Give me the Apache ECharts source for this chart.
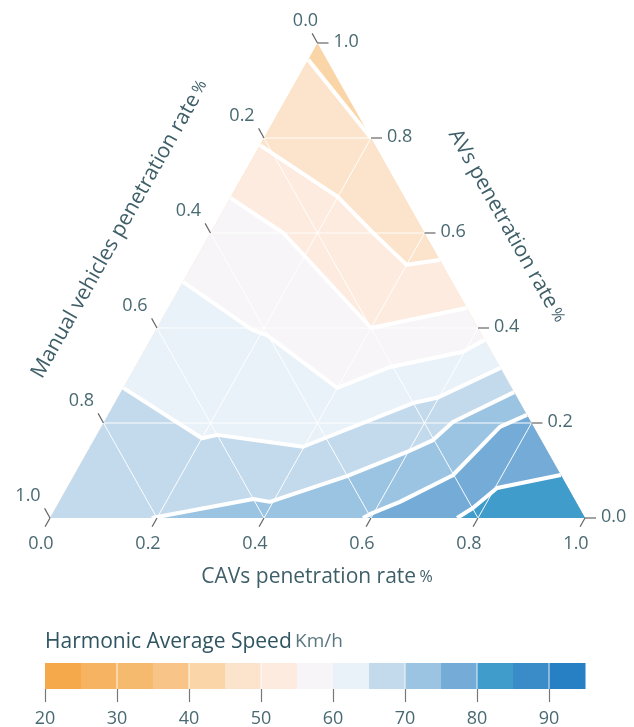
<!DOCTYPE html>
<html><head><meta charset="utf-8">
<script src="https://cdn.jsdelivr.net/npm/echarts@6/dist/echarts.min.js"></script>
<style>html,body{margin:0;padding:0;background:#fff}#c{width:634px;height:727px}</style>
</head><body><div id="c"></div>
<script>
// Ternary points are [CAV share, AV share]; Manual share = 1 - CAV - AV
const axisTicks = [0, 0.2, 0.4, 0.6, 0.8, 1.0];
const gridValues = [0.2, 0.4, 0.6, 0.8];
const speedBins = [20, 25, 30, 35, 40, 45, 50, 55, 60, 65, 70, 75, 80, 85, 90, 95];
const binColors = ['#F5A94A', '#F6B463', '#F6BA6E', '#F8C487', '#FAD5A7', '#FCE4CC', '#FDEBDF',
  '#F7F5F7', '#E9F1F9', '#C3DAED', '#9BC4E2', '#75ACD7', '#409DCB', '#3A8CC9', '#2780C4'];
const colorbarTicks = [20, 30, 40, 50, 60, 70, 80, 90];
const colorbarSeparators = [30, 40, 50, 70, 80, 90];
const baseLevel = 40;
const contourLevels = [45, 50, 55, 60, 65, 70, 75, 80];
const contour45 = [[0, 0.965], [0.2, 0.8]];
const contour50 = [[0, 0.785], [0.2, 0.676], [0.304, 0.6], [0.4, 0.533], [0.457, 0.543]];
const contour55 = [[0, 0.674], [0.136, 0.6], [0.4, 0.4], [0.558, 0.442]];
const contour60 = [[0, 0.497], [0.18, 0.396], [0.213, 0.385], [0.4, 0.274], [0.477, 0.318], [0.597, 0.35], [0.625, 0.375]];
const contour65 = [[0, 0.274], [0.2, 0.168], [0.225, 0.175], [0.398, 0.15], [0.5575, 0.242], [0.597, 0.253], [0.684, 0.316]];
const contour70 = [[0.19, 0], [0.36, 0.04], [0.394, 0.034], [0.511, 0.088], [0.598, 0.139], [0.634, 0.164], [0.652, 0.202], [0.735, 0.265]];
const contour75 = [[0.585, 0], [0.594, 0.008], [0.637, 0.034], [0.708, 0.09], [0.745, 0.192], [0.783, 0.217]];
const contour80 = [[0.761, 0], [0.78, 0.021], [0.804, 0.063], [0.9095, 0.0905]];

const contours = [contour45, contour50, contour55, contour60, contour65, contour70, contour75, contour80];
const T = p => [p[0] + p[1] / 2, p[1]];
const colorFor = lvl => binColors[speedBins.indexOf(lvl)];
function fillPolygon(line) {
  const pts = line.map(T);
  pts.push(T([1, 0]));
  if (line[0][0] === 0 && line[0][1] > 0) pts.push(T([0, 0]));
  return pts;
}
const fillShapes = [{ pts: [T([0, 0]), T([1, 0]), T([0, 1])], color: colorFor(baseLevel) }]
  .concat(contours.map((l, i) => ({ pts: fillPolygon(l), color: colorFor(contourLevels[i]) })));
const gridSegments = [];
gridValues.forEach(v => {
  gridSegments.push([T([0, v]), T([1 - v, v])]);
  gridSegments.push([T([v, 0]), T([v, 1 - v])]);
  gridSegments.push([T([0, 1 - v]), T([1 - v, 0])]);
});

const TXT = '#3f5f68';
const LBL = '#4a6a72';
const FONT = '"Open Sans", "Noto Sans", sans-serif';

const chart = echarts.init(document.getElementById('c'));
const dummy = n => Array.from({ length: n }, () => [0, 0]);
const norm = (a, b) => { const dx = a[0] - b[0], dy = a[1] - b[1]; const l = Math.hypot(dx, dy); return [dx / l, dy / l]; };

chart.setOption({
  animation: false,
  grid: [
    { left: 50, top: 43, width: 535, height: 475, outerBoundsMode: 'none', containLabel: false },
    { left: 45, top: 663, width: 540, height: 26, outerBoundsMode: 'none', containLabel: false }
  ],
  xAxis: [
    { gridIndex: 0, type: 'value', min: 0, max: 1, show: false },
    { gridIndex: 1, type: 'value', min: 20, max: 95, interval: 5,
      axisLine: { show: false }, splitLine: { show: false },
      axisTick: { show: true, length: 13, customValues: colorbarTicks, lineStyle: { color: '#777', width: 1.2 } },
      axisLabel: { customValues: colorbarTicks, fontSize: 18, color: LBL, fontFamily: FONT, margin: 21 } }
  ],
  yAxis: [
    { gridIndex: 0, type: 'value', min: 0, max: 1, show: false },
    { gridIndex: 1, type: 'value', min: 0, max: 1, show: false }
  ],
  series: [
    { type: 'custom', xAxisIndex: 0, yAxisIndex: 0, silent: true, data: dummy(fillShapes.length),
      renderItem: (params, api) => {
        const s = fillShapes[params.dataIndex];
        return { type: 'polygon', shape: { points: s.pts.map(p => api.coord(p)) }, style: { fill: s.color } };
      } },
    { type: 'custom', xAxisIndex: 0, yAxisIndex: 0, silent: true, data: dummy(gridSegments.length),
      renderItem: (params, api) => {
        const s = gridSegments[params.dataIndex];
        const a = api.coord(s[0]), b = api.coord(s[1]);
        return { type: 'line', shape: { x1: a[0], y1: a[1], x2: b[0], y2: b[1] }, style: { stroke: 'rgba(255,255,255,0.95)', lineWidth: 1 } };
      } },
    { type: 'custom', xAxisIndex: 0, yAxisIndex: 0, silent: true, data: dummy(contours.length),
      renderItem: (params, api) => {
        const l = contours[params.dataIndex];
        return { type: 'polyline', shape: { points: l.map(p => api.coord(T(p))) }, style: { stroke: '#fff', lineWidth: 4, fill: null, lineJoin: 'round' } };
      } },
    // ternary axis ticks and labels
    { type: 'custom', xAxisIndex: 0, yAxisIndex: 0, silent: true, data: dummy(axisTicks.length * 3),
      renderItem: (params, api) => {
        const axis = Math.floor(params.dataIndex / axisTicks.length);
        const v = axisTicks[params.dataIndex % axisTicks.length];
        const label = v.toFixed(1);
        let p, d, len, tx, ty, align;
        if (axis === 0) { // CAV bottom
          p = api.coord(T([v, 0]));
          d = norm(p, api.coord(T([v, 0.1])));
          len = 10; tx = p[0] - 9; ty = p[1] + 26; align = 'center';
        } else if (axis === 1) { // AV right
          p = api.coord(T([1 - v, v]));
          d = [1, 0]; len = 11; tx = p[0] + 16; ty = p[1] - 1; align = 'left';
        } else { // Manual left
          p = api.coord(T([0, 1 - v]));
          d = norm(p, api.coord(T([0.1, 1 - v - 0.1])));
          len = 11; tx = p[0] - (v === 0 ? 12 : 22); ty = p[1] - 22; align = 'center';
        }
        return { type: 'group', children: [
          { type: 'line', shape: { x1: p[0], y1: p[1], x2: p[0] + d[0] * len, y2: p[1] + d[1] * len }, style: { stroke: '#666', lineWidth: 1.2 } },
          { type: 'text', x: tx, y: ty, style: { text: label, fill: LBL, font: '18px ' + FONT, align: align, verticalAlign: 'middle' } }
        ] };
      } },
    // colorbar
    { type: 'custom', xAxisIndex: 1, yAxisIndex: 1, silent: true, data: dummy(binColors.length),
      renderItem: (params, api) => {
        const i = params.dataIndex;
        const a = api.coord([speedBins[i], 1]), b = api.coord([speedBins[i + 1], 0]);
        return { type: 'rect', shape: { x: a[0], y: a[1], width: b[0] - a[0] + 0.5, height: b[1] - a[1] }, style: { fill: binColors[i] } };
      } },
    { type: 'custom', xAxisIndex: 1, yAxisIndex: 1, silent: true, data: dummy(colorbarSeparators.length),
      renderItem: (params, api) => {
        const a = api.coord([colorbarSeparators[params.dataIndex], 1]), b = api.coord([colorbarSeparators[params.dataIndex], 0]);
        return { type: 'line', shape: { x1: a[0], y1: a[1], x2: b[0], y2: b[1] }, style: { stroke: 'rgba(255,255,255,0.85)', lineWidth: 1 } };
      } }
  ],
  graphic: [
    { type: 'text', x: 45, y: 642, style: { text: '{a|Harmonic Average Speed} {b|Km/h}', verticalAlign: 'middle',
      rich: { a: { fontSize: 21, fontFamily: FONT, fill: '#2f5560', color: '#2f5560' }, b: { fontSize: 19, fontFamily: FONT, fill: '#5b7880', color: '#5b7880' } } } },
    { type: 'text', x: 317, y: 577, style: { text: '{a|CAVs penetration rate} {b|%}', align: 'center', verticalAlign: 'middle',
      rich: { a: { fontSize: 21, fontFamily: FONT, fill: TXT, color: TXT }, b: { fontSize: 16, fontFamily: FONT, fill: TXT, color: TXT } } } },
    { type: 'text', x: 120, y: 229, rotation: 60.6 * Math.PI / 180, style: { text: '{a|Manual vehicles penetration rate} {b|%}', align: 'center', verticalAlign: 'middle',
      rich: { a: { fontSize: 21, fontFamily: FONT, fill: TXT, color: TXT }, b: { fontSize: 16, fontFamily: FONT, fill: TXT, color: TXT } } } },
    { type: 'text', x: 507, y: 226, rotation: -60.6 * Math.PI / 180, style: { text: '{a|AVs penetration rate} {b|%}', align: 'center', verticalAlign: 'middle',
      rich: { a: { fontSize: 21, fontFamily: FONT, fill: TXT, color: TXT }, b: { fontSize: 16, fontFamily: FONT, fill: TXT, color: TXT } } } }
  ]
});
</script></body></html>
